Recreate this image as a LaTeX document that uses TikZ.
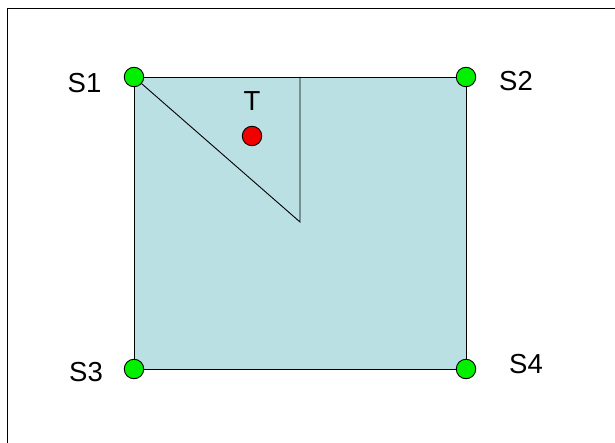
\documentclass[tikz,border=0pt]{standalone}
\usepackage{fontspec}
\setmainfont{Liberation Sans}
\definecolor{fillblue}{RGB}{187,224,227}
\definecolor{dotgreen}{RGB}{0,240,0}
\definecolor{dotred}{RGB}{240,0,0}
\begin{document}
\begin{tikzpicture}[x=1pt,y=-1pt,
  dot/.style={circle,draw=black,line width=0.9pt,minimum size=19.5pt,inner sep=0pt},
  sensor/.style={dot,fill=dotgreen},
  target/.style={dot,fill=dotred},
  lbl/.style={font=\fontsize{27.5}{27.5}\selectfont,inner sep=0pt},
  edge/.style={draw=black,line width=0.9pt}]
\useasboundingbox (0,0) rectangle (615,443);
\fill[white] (0,0) rectangle (615,443);
\draw[line width=1pt] (7,443) -- (7,9) -- (615,9);
\coordinate (c1) at (134,77);
\coordinate (c2) at (466,77);
\coordinate (c3) at (134,369);
\coordinate (c4) at (466,369);
\coordinate (vtop) at (300,77);
\coordinate (vtip) at (300,222);
\path[fill=fillblue,edge] (c1) -- (c2) -- (c4) -- (c3) -- cycle;
\draw[edge] (c1) -- (vtip) -- (vtop);
\node[sensor] (s1) at (c1) {};
\node[sensor] (s2) at (c2) {};
\node[sensor] (s3) at (c3) {};
\node[sensor] (s4) at (c4) {};
\node[target] (t) at (252,136) {};
\node[lbl] (l1) at (84.5,83) {S1};
\node[lbl] (l2) at (516,81) {S2};
\node[lbl] (l3) at (86,372) {S3};
\node[lbl] (l4) at (526,364) {S4};
\node[lbl] (lt) at (252,101) {T};
\end{tikzpicture}
\end{document}
